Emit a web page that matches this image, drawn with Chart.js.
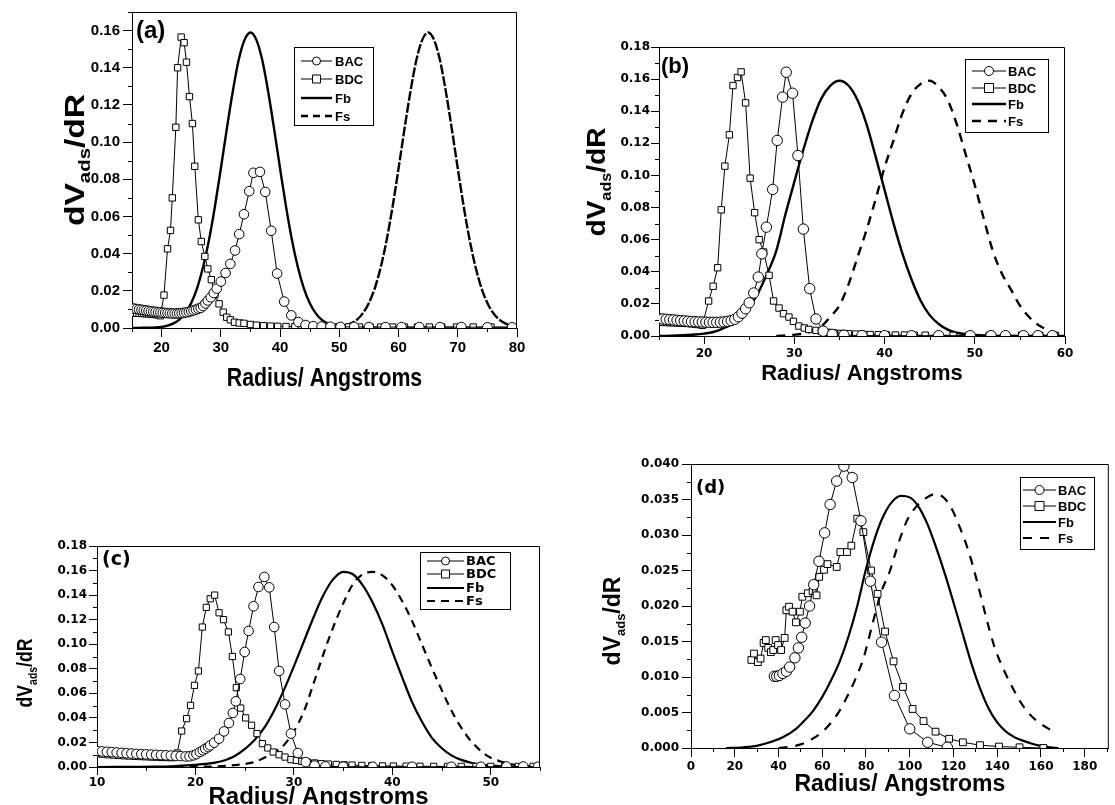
<!DOCTYPE html>
<html>
<head>
<meta charset="utf-8">
<script src="https://cdn.jsdelivr.net/npm/chart.js@4.4.1/dist/chart.umd.min.js"></script>
<style>
    html, body { margin: 0; padding: 0; background: #fff; }
    #wrap { position: relative; width: 1115px; height: 805px; overflow: hidden; }
    #wrap canvas { position: absolute; left: 0; top: 0; }
</style>
</head>
<body>
<div id="wrap">
    <canvas id="chartA" width="1115" height="805"></canvas>
    <canvas id="chartB" width="1115" height="805"></canvas>
    <canvas id="chartC" width="1115" height="805"></canvas>
    <canvas id="chartD" width="1115" height="805"></canvas>
</div>
<script>
// ---- panel (a) : [radius, dV/dR] ----
var aBAC = [[15,0.0106],[15.4,0.0104],[15.8,0.0102],[16.2,0.0100],[16.6,0.0098],[17.0,0.0096],[17.4,0.0094],[17.8,0.0092],[18.2,0.0090],[18.6,0.0088],[19.0,0.0087],[19.4,0.0085],[19.8,0.0084],[20.2,0.0082],[20.6,0.0081],[21.0,0.0080],[21.4,0.0079],[21.8,0.0078],[22.2,0.0078],[22.6,0.0078],[23.0,0.0079],[23.4,0.0080],[23.8,0.0082],[24.2,0.0084],[24.6,0.0087],[25.0,0.0091],[25.4,0.0095],[25.8,0.0099],[26.2,0.0104],[26.6,0.0108],[27.0,0.0118],[27.4,0.0132],[27.8,0.0148],[28.3,0.0165],[28.8,0.0188],[29.3,0.0212],[30.0,0.0250],[30.8,0.0296],[31.6,0.0345],[32.4,0.0417],[33.1,0.0505],[33.9,0.0612],[34.8,0.0736],[35.5,0.0835],[36.6,0.0840],[37.5,0.0732],[38.5,0.0523],[39.5,0.0293],[40.7,0.0142],[41.9,0.0068],[43.1,0.0032],[44.3,0.0016],[45.6,0.0010],[47.0,0.0008],[48.5,0.0007],[50.2,0.0006],[52.5,0.0006],[55.0,0.0005],[57.8,0.0005],[60.5,0.0005],[63.5,0.0005],[67.0,0.0005],[70.6,0.0005],[75.0,0.0004],[79.2,0.0004]];
var aBDC = [[15,0.0080],[15.4,0.0080],[15.8,0.0079],[16.2,0.0079],[16.6,0.0078],[17.0,0.0078],[17.4,0.0077],[17.8,0.0076],[18.2,0.0075],[18.6,0.0074],[19.0,0.0072],[19.4,0.0070],[19.8,0.0066],[20.4,0.0177],[21.0,0.0426],[21.5,0.0525],[21.8,0.0700],[22.4,0.1080],[22.7,0.1400],[23.3,0.1565],[23.8,0.1535],[24.2,0.1430],[24.7,0.1245],[25.2,0.1100],[25.6,0.0870],[26.2,0.0582],[26.7,0.0465],[27.3,0.0385],[27.8,0.0318],[28.4,0.0260],[29.0,0.0180],[29.7,0.0130],[30.4,0.0085],[31.0,0.0058],[31.6,0.0044],[32.3,0.0031],[33.1,0.0027],[33.9,0.0025],[35.0,0.0019],[36.0,0.0015],[37.2,0.0012],[38.4,0.0010],[39.6,0.0009],[41.0,0.0008],[42.5,0.0007],[44.3,0.0007],[46.2,0.0006],[48.0,0.0006],[49.8,0.0006],[51.6,0.0006],[53.4,0.0005],[55.2,0.0005],[57.0,0.0005],[59.0,0.0005],[61.0,0.0005],[63.2,0.0005],[65.2,0.0005],[67.3,0.0005],[69.8,0.0005],[72.6,0.0005],[75.6,0.0005],[79.2,0.0005]];
var aFb = [[15,0.0000],[17,0.0001],[19,0.0003],[20,0.0006],[21,0.0013],[22,0.0025],[23,0.0045],[24,0.0080],[25,0.0135],[26,0.0215],[27,0.0328],[28,0.0474],[29,0.0654],[30,0.0858],[31,0.1070],[32,0.1270],[33,0.1440],[34,0.1550],[35,0.1590],[36,0.1550],[37,0.1440],[38,0.1270],[39,0.1070],[40,0.0858],[41,0.0654],[42,0.0474],[43,0.0328],[44,0.0215],[45,0.0135],[46,0.0080],[47,0.0045],[48,0.0025],[49,0.0013],[50,0.0006],[51,0.0003],[53,0.0001],[55,0.0000]];
var aFs = [[45,0.0000],[47,0.0001],[49,0.0003],[50,0.0006],[51,0.0013],[52,0.0025],[53,0.0045],[54,0.0080],[55,0.0135],[56,0.0215],[57,0.0328],[58,0.0474],[59,0.0654],[60,0.0858],[61,0.1070],[62,0.1270],[63,0.1440],[64,0.1550],[65,0.1590],[66,0.1550],[67,0.1440],[68,0.1270],[69,0.1070],[70,0.0858],[71,0.0654],[72,0.0474],[73,0.0328],[74,0.0215],[75,0.0135],[76,0.0080],[77,0.0045],[78,0.0025],[79,0.0013],[80,0.0006]];
var aXTicks = [20, 30, 40, 50, 60, 70, 80];
var aYTicks = [0, 0.02, 0.04, 0.06, 0.08, 0.10, 0.12, 0.14, 0.16];

// ---- panel (b) ----
var bBAC = [[15,0.0108],[15.4,0.0106],[15.8,0.0104],[16.2,0.0102],[16.6,0.0100],[17.0,0.0098],[17.4,0.0096],[17.8,0.0094],[18.2,0.0092],[18.6,0.0090],[19.0,0.0089],[19.4,0.0088],[19.8,0.0087],[20.2,0.0086],[20.6,0.0085],[21.0,0.0085],[21.4,0.0085],[21.8,0.0086],[22.2,0.0088],[22.6,0.0091],[23.0,0.0096],[23.4,0.0104],[23.8,0.0120],[24.2,0.0142],[24.6,0.0170],[25.0,0.0207],[25.5,0.0268],[26.0,0.0367],[26.4,0.0512],[26.9,0.0678],[27.6,0.0913],[28.1,0.1218],[28.7,0.1488],[29.1,0.1643],[29.8,0.1512],[30.4,0.1124],[31.0,0.0666],[31.7,0.0295],[32.4,0.0106],[33.2,0.0030],[34.2,0.0010],[35.5,0.0005],[37.5,0.0003],[40.0,0.0002],[43.0,0.0002],[46.0,0.0002],[49.5,0.0002],[51.8,0.0002],[53.4,0.0002],[55.4,0.0002],[57.0,0.0002],[58.6,0.0002]];
var bBDC = [[15,0.0086],[15.4,0.0085],[15.8,0.0084],[16.2,0.0083],[16.6,0.0082],[17.0,0.0081],[17.4,0.0080],[17.8,0.0079],[18.2,0.0078],[18.6,0.0076],[19.0,0.0074],[19.4,0.0071],[19.8,0.0066],[20.5,0.0218],[21.0,0.0310],[21.5,0.0425],[21.9,0.0786],[22.3,0.1058],[22.8,0.1253],[23.2,0.1560],[23.7,0.1610],[24.1,0.1645],[24.6,0.1452],[25.1,0.0983],[25.6,0.0768],[26.1,0.0600],[26.6,0.0523],[27.2,0.0378],[27.7,0.0218],[28.3,0.0174],[28.8,0.0139],[29.4,0.0118],[29.9,0.0091],[30.5,0.0062],[31.1,0.0050],[31.6,0.0041],[32.4,0.0035],[33.0,0.0030],[33.7,0.0023],[34.4,0.0019],[35.2,0.0016],[36.0,0.0014],[36.8,0.0012],[37.6,0.0010],[38.4,0.0009],[39.3,0.0008],[40.2,0.0007],[41.2,0.0006],[42.2,0.0006],[43.3,0.0005],[44.5,0.0005],[46.0,0.0005],[47.6,0.0004],[49.4,0.0004],[51.6,0.0004],[53.3,0.0004],[55.2,0.0004],[57.2,0.0004],[58.9,0.0004]];
var bFb = [[15,0.0000],[17,0.0003],[19,0.0009],[20,0.0015],[21,0.0025],[22,0.0045],[23,0.0072],[24,0.0115],[25,0.0180],[26,0.0270],[27,0.0390],[28,0.0530],[29,0.0755],[30,0.0960],[31,0.1160],[32,0.1340],[33,0.1480],[34,0.1560],[35,0.1590],[36,0.1560],[37,0.1470],[38,0.1320],[39,0.1120],[40,0.0910],[41,0.0700],[42,0.0510],[43,0.0350],[44,0.0220],[45,0.0130],[46,0.0075],[47,0.0040],[48,0.0020],[50,0.0006],[52,0.0001],[60,0.0000]];
var bFs = [[28,0.0000],[30,0.0008],[31,0.0015],[32,0.0030],[33,0.0060],[34,0.0120],[35,0.0190],[36,0.0320],[37,0.0490],[38,0.0660],[39,0.0850],[40,0.1050],[41,0.1220],[42,0.1390],[43,0.1510],[44,0.1570],[45,0.1590],[46,0.1550],[47,0.1470],[48,0.1320],[49,0.1130],[50,0.0940],[51,0.0730],[52,0.0530],[53,0.0390],[54,0.0290],[55,0.0190],[56,0.0120],[57,0.0070],[58,0.0040],[59,0.0020],[60,0.0008]];
var bXTicks = [20, 30, 40, 50, 60];
var bYTicks = [0, 0.02, 0.04, 0.06, 0.08, 0.10, 0.12, 0.14, 0.16, 0.18];

// ---- panel (c) ----
var cBAC = [[10,0.0130],[10.5,0.0127],[11,0.0124],[11.5,0.0121],[12,0.0118],[12.5,0.0115],[13,0.0112],[13.5,0.0110],[14,0.0107],[14.5,0.0105],[15,0.0103],[15.5,0.0101],[16,0.0099],[16.5,0.0097],[17,0.0095],[17.5,0.0093],[18,0.0091],[18.5,0.0089],[19.0,0.0086],[19.4,0.0087],[19.8,0.0095],[20.1,0.0105],[20.45,0.0122],[20.75,0.0135],[21.0,0.0149],[21.3,0.0162],[21.5,0.0176],[21.9,0.0198],[22.4,0.0231],[22.9,0.0290],[23.4,0.0358],[23.8,0.0440],[24.1,0.0535],[24.55,0.0717],[25.0,0.0937],[25.4,0.1108],[25.9,0.1309],[26.4,0.1466],[27.0,0.1548],[27.5,0.1463],[28.0,0.1140],[28.5,0.0782],[29.1,0.0510],[29.7,0.0272],[30.4,0.0114],[31.2,0.0040],[32.1,0.0012],[33.2,0.0005],[35.0,0.0003],[38.0,0.0002],[42.0,0.0002],[46.0,0.0002],[49.0,0.0002],[51.6,0.0004],[53.3,0.0004],[54.8,0.0002]];
var cBDC = [[10,0.0109],[10.55,0.0104],[11.1,0.0100],[11.65,0.0097],[12.2,0.0094],[12.75,0.0091],[13.3,0.0089],[13.85,0.0087],[14.4,0.0085],[14.95,0.0083],[15.5,0.0081],[16.05,0.0080],[16.6,0.0078],[17.1,0.0077],[17.6,0.0076],[18.15,0.0114],[18.6,0.0293],[19.1,0.0394],[19.5,0.0502],[19.9,0.0665],[20.3,0.0782],[20.7,0.1140],[21.1,0.1300],[21.5,0.1370],[21.95,0.1400],[22.4,0.1256],[22.85,0.1200],[23.35,0.1100],[23.75,0.0900],[24.15,0.0646],[24.6,0.0480],[25.1,0.0400],[25.7,0.0340],[26.25,0.0272],[26.8,0.0190],[27.35,0.0155],[27.9,0.0122],[28.5,0.0100],[29.1,0.0081],[29.7,0.0060],[30.25,0.0054],[30.8,0.0046],[31.35,0.0041],[32.1,0.0033],[32.8,0.0027],[33.5,0.0024],[34.3,0.0021],[35.1,0.0018],[35.9,0.0016],[36.9,0.0013],[37.9,0.0011],[39.0,0.0009],[40.1,0.0008],[41.4,0.0007],[42.8,0.0006],[44.2,0.0005],[45.6,0.0005],[47.0,0.0005],[48.5,0.0005],[50.0,0.0005],[51.4,0.0005],[52.8,0.0005],[54.3,0.0005]];
var cFb = [[10,0.0000],[16,0.0003],[18,0.0008],[20,0.0017],[21,0.0025],[22,0.0035],[23,0.0055],[24,0.0090],[25,0.0145],[26,0.0220],[27,0.0320],[28,0.0460],[29,0.0630],[30,0.0820],[31,0.1020],[32,0.1220],[33,0.1400],[34,0.1530],[35,0.1590],[36,0.1570],[37,0.1480],[38,0.1340],[39,0.1160],[40,0.0940],[41,0.0730],[42,0.0530],[43,0.0370],[44,0.0240],[45,0.0155],[46,0.0095],[47,0.0058],[48,0.0035],[49,0.0020],[50,0.0012],[52,0.0004],[55,0.0000]];
var cFs = [[18,0.0000],[22,0.0005],[24,0.0015],[25,0.0025],[26,0.0040],[27,0.0075],[28,0.0120],[29,0.0180],[30,0.0290],[31,0.0450],[32,0.0680],[33,0.0920],[34,0.1140],[35,0.1330],[36,0.1490],[37,0.1570],[38,0.1590],[39,0.1560],[40,0.1480],[41,0.1350],[42,0.1190],[43,0.1000],[44,0.0810],[45,0.0630],[46,0.0460],[47,0.0320],[48,0.0210],[49,0.0130],[50,0.0075],[51,0.0045],[52,0.0025],[53,0.0013],[55,0.0003]];
var cXTicks = [10, 20, 30, 40, 50];
var cYTicks = [0, 0.02, 0.04, 0.06, 0.08, 0.10, 0.12, 0.14, 0.16, 0.18];

// ---- panel (d) ----
var dBAC = [[38.1,0.0101],[39.2,0.0101],[40.4,0.0102],[42.0,0.0105],[43.6,0.0108],[45.1,0.0114],[47.5,0.0127],[49.1,0.0141],[50.6,0.0156],[52.2,0.0176],[54.2,0.0200],[56.1,0.0230],[58.5,0.0263],[61.1,0.0303],[63.6,0.0343],[66.6,0.0376],[69.9,0.0397],[73.7,0.0381],[77.7,0.0320],[82.0,0.0235],[87.1,0.0149],[93.0,0.0074],[100.0,0.0027],[108.2,0.0008],[117.2,0.0001]];
var dBDC = [[27.6,0.0124],[28.8,0.0133],[30.6,0.0121],[31.8,0.0126],[33.2,0.0148],[34.2,0.0152],[35.3,0.0141],[36.5,0.0135],[37.6,0.0138],[38.7,0.0152],[39.8,0.0145],[41.2,0.0138],[42.8,0.0155],[43.6,0.0194],[44.8,0.0199],[46.4,0.0192],[48.0,0.0177],[49.8,0.0192],[50.9,0.0213],[53.4,0.0218],[55.6,0.0221],[57.4,0.0215],[58.6,0.0241],[60.8,0.0251],[62.4,0.0259],[66.6,0.0255],[68.3,0.0276],[71.3,0.0276],[73.3,0.0285],[76.0,0.0323],[78.8,0.0304],[82.3,0.0250],[85.3,0.0217],[88.7,0.0164],[92.6,0.0122],[96.9,0.0086],[101.3,0.0055],[106.3,0.0038],[111.8,0.0023],[118.0,0.0013],[124.3,0.0008],[132.1,0.0004],[140.8,0.0002],[150.2,0.0001],[161.1,0.0000]];
var dFb = [[16,0.0000],[24,0.0001],[30,0.0003],[36,0.0008],[42,0.0015],[48,0.0027],[52,0.0039],[56,0.0053],[60,0.0072],[64,0.0095],[68,0.0122],[72,0.0157],[76,0.0200],[80,0.0252],[84,0.0295],[88,0.0327],[92,0.0347],[96,0.0355],[100,0.0353],[104,0.0340],[108,0.0316],[112,0.0283],[116,0.0246],[120,0.0205],[124,0.0163],[128,0.0121],[132,0.0085],[136,0.0056],[140,0.0036],[144,0.0023],[148,0.0015],[152,0.0010],[156,0.0006],[160,0.0003],[164,0.0001],[168,0.0000]];
var dFs = [[40,0.0000],[46,0.0002],[51,0.0006],[55,0.0012],[59,0.0020],[63,0.0032],[67,0.0048],[71,0.0070],[75,0.0096],[79,0.0128],[83,0.0175],[87,0.0220],[91,0.0250],[95,0.0290],[99,0.0322],[103,0.0340],[107,0.0351],[111,0.0357],[115,0.0354],[119,0.0338],[123,0.0310],[127,0.0276],[131,0.0232],[135,0.0183],[139,0.0140],[143,0.0110],[147,0.0085],[151,0.0063],[155,0.0047],[159,0.0036],[163,0.0028],[167,0.0021]];
var dXTicks = [0, 20, 40, 60, 80, 100, 120, 140, 160, 180];
var dYTicks = [0, 0.005, 0.010, 0.015, 0.020, 0.025, 0.030, 0.035, 0.040];

var seriesNames = ['BAC', 'BDC', 'Fb', 'Fs'];

// minor ticks half way between the labelled ones
function minorValues(s) {
    var t = s.ticks.map(function (k) { return k.value; });
    var step = t[1] - t[0], out = [];
    for (var v = t[0] - step / 2; v <= s.max + 1e-9; v += step) {
        if (v >= s.min - 1e-9) out.push(v);
    }
    return out;
}

function drawMarker(ctx, style, x, y, r) {
    ctx.beginPath();
    if (style === 'rect') {
        ctx.rect(x - r, y - r, 2 * r, 2 * r);
    } else {
        ctx.arc(x, y, r, 0, Math.PI * 2);
    }
    ctx.fillStyle = '#fff';
    ctx.fill();
    ctx.stroke();
}

// frame, minor ticks, legend box, panel letter and axis titles
var decor = {
    id: 'decor',
    afterDraw: function (chart, args, o) {
        var ctx = chart.ctx, a = chart.chartArea;
        var xs = chart.scales.x, ys = chart.scales.y;
        ctx.save();
        ctx.strokeStyle = '#000';
        ctx.lineWidth = 1;
        ctx.beginPath();
        ctx.moveTo(a.left, a.top + 0.5);
        ctx.lineTo(a.right - 0.5, a.top + 0.5);
        ctx.lineTo(a.right - 0.5, a.bottom);
        minorValues(xs).forEach(function (v) {
            var px = Math.round(xs.getPixelForValue(v)) + 0.5;
            ctx.moveTo(px, a.bottom);
            ctx.lineTo(px, a.bottom + o.minorLen);
        });
        minorValues(ys).forEach(function (v) {
            var py = Math.round(ys.getPixelForValue(v)) + 0.5;
            ctx.moveTo(a.left, py);
            ctx.lineTo(a.left - o.minorLen, py);
        });
        ctx.stroke();

        // legend
        var lg = o.legend;
        ctx.lineWidth = 1;
        ctx.strokeRect(lg.x + 0.5, lg.y + 0.5, lg.w, lg.h);
        chart.data.datasets.forEach(function (ds, i) {
            var y = lg.rows[i];
            ctx.save();
            ctx.lineWidth = ds.pointRadius ? 1 : ds.borderWidth;
            ctx.setLineDash(ds.pointRadius ? [] : (lg.dash && i === 3 ? lg.dash : (ds.borderDash || [])));
            ctx.beginPath();
            ctx.moveTo(lg.x1, y);
            ctx.lineTo(lg.x2, y);
            ctx.stroke();
            ctx.setLineDash([]);
            if (ds.pointRadius) {
                ctx.lineWidth = 1;
                drawMarker(ctx, ds.pointStyle, (lg.x1 + lg.x2) / 2, y, lg.r);
            }
            ctx.restore();
            ctx.fillStyle = '#000';
            ctx.font = lg.font;
            ctx.textBaseline = 'middle';
            ctx.textAlign = 'left';
            ctx.fillText(ds.label, lg.tx, y + 1);
        });

        // panel letter
        ctx.fillStyle = '#000';
        ctx.font = o.tag.font;
        ctx.textBaseline = 'middle';
        ctx.textAlign = 'left';
        ctx.fillText(o.tag.text, o.tag.x, o.tag.y);

        // x title
        ctx.save();
        ctx.font = o.xTitle.font;
        ctx.textAlign = 'center';
        ctx.translate((a.left + a.right) / 2, o.xTitle.y);
        ctx.scale(o.xTitle.sx || 1, 1);
        ctx.fillText('Radius/ Angstroms', 0, 0);
        ctx.restore();

        // y title with subscript
        var t = o.yTitle;
        ctx.translate(t.x, t.y);
        ctx.rotate(-Math.PI / 2);
        ctx.scale(t.stretch || 1, 1);
        ctx.textAlign = 'left';
        ctx.textBaseline = 'alphabetic';
        ctx.font = t.font;
        var w1 = ctx.measureText('dV').width, w3 = ctx.measureText('/dR').width;
        ctx.font = t.subFont;
        var w2 = ctx.measureText('ads').width;
        var x = -(w1 + w2 + w3) / 2;
        ctx.font = t.font;
        ctx.fillText('dV', x, t.base);
        x += w1;
        ctx.font = t.subFont;
        ctx.fillText('ads', x, t.base + t.subShift);
        x += w2;
        ctx.font = t.font;
        ctx.fillText('/dR', x, t.base);
        ctx.restore();
    }
};

function makePanel(id, p) {
    var yw = 70, xh = 30;
    var ds = [
        { label: seriesNames[0], data: p.bac, borderColor: '#000', borderWidth: 1, pointStyle: 'circle',
          pointRadius: p.circleR, pointBackgroundColor: '#fff', pointBorderColor: '#000', pointBorderWidth: 1, order: 1 },
        { label: seriesNames[1], data: p.bdc, borderColor: '#000', borderWidth: 1, pointStyle: 'rect',
          pointRadius: p.rectR, pointBackgroundColor: '#fff', pointBorderColor: '#000', pointBorderWidth: 1, order: 2 },
        { label: seriesNames[2], data: p.fb, borderColor: '#000', borderWidth: p.lineW, pointRadius: 0,
          cubicInterpolationMode: 'monotone', order: 3 },
        { label: seriesNames[3], data: p.fs, borderColor: '#000', borderWidth: p.lineW, borderDash: p.dash, pointRadius: 0,
          cubicInterpolationMode: 'monotone', order: 4 }
    ];
    return new Chart(document.getElementById(id), {
        type: 'line',
        data: { datasets: ds },
        plugins: [decor],
        options: {
            responsive: false,
            animation: false,
            devicePixelRatio: 1,
            layout: { padding: { left: p.box[0] - yw, right: 1115 - p.box[1], top: p.box[2], bottom: 805 - p.box[3] - xh } },
            plugins: {
                legend: { display: false },
                tooltip: { enabled: false },
                decor: p.decor
            },
            scales: {
                x: {
                    type: 'linear', min: p.xr[0], max: p.xr[1],
                    afterBuildTicks: function (s) { s.ticks = p.xTicks.map(function (v) { return { value: v }; }); },
                    afterFit: function (s) { s.height = xh; },
                    ticks: { color: '#000', font: p.tickFont, padding: p.xPad, maxRotation: 0, autoSkip: false,
                             callback: function (v) { return String(v); } },
                    grid: { drawOnChartArea: false, tickLength: p.tickLen, tickColor: '#000', tickWidth: 1 },
                    border: { color: '#000', width: 1 }
                },
                y: {
                    type: 'linear', min: p.yr[0], max: p.yr[1],
                    afterBuildTicks: function (s) { s.ticks = p.yTicks.map(function (v) { return { value: v }; }); },
                    afterFit: function (s) { s.width = yw; },
                    ticks: { color: '#000', font: p.tickFont, padding: p.yPad, autoSkip: false,
                             callback: function (v) { return v.toFixed(p.yDec); } },
                    grid: { drawOnChartArea: false, tickLength: p.tickLen, tickColor: '#000', tickWidth: 1 },
                    border: { color: '#000', width: 1 }
                }
            }
        }
    });
}

var wide = "'DejaVu Sans', sans-serif";
var arial = "'Liberation Sans', Arial, sans-serif";

makePanel('chartA', {
    bac: aBAC, bdc: aBDC, fb: aFb, fs: aFs, xTicks: aXTicks, yTicks: aYTicks,
    xr: [15, 80], yr: [0, 0.17], box: [132, 517, 10, 328], yDec: 2,
    circleR: 4.8, rectR: 4.5, lineW: 2.4, dash: [10, 2],
    tickFont: { family: arial, size: 15, weight: 'bold' }, tickLen: 9, xPad: 2, yPad: 3,
    decor: {
        minorLen: 4,
        legend: { x: 294, y: 47, w: 79, h: 78, rows: [61, 79, 98, 116], x1: 301, x2: 332, tx: 335, r: 4,
                  dash: [7, 5], font: 'bold 13px ' + arial },
        tag: { text: '(a)', x: 136, y: 31, font: 'bold 24px ' + arial },
        xTitle: { y: 379, sx: 0.82, font: 'bold 26px ' + arial },
        yTitle: { x: 74, y: 160, base: 10, subShift: 6, stretch: 1.2, font: 'bold 28px ' + arial, subFont: 'bold 17px ' + arial }
    }
});

makePanel('chartB', {
    bac: bBAC, bdc: bBDC, fb: bFb, fs: bFs, xTicks: bXTicks, yTicks: bYTicks,
    xr: [15, 60], yr: [0, 0.18], box: [659, 1065, 47, 336], yDec: 2,
    circleR: 5.2, rectR: 4.5, lineW: 2.4, dash: [9, 7],
    tickFont: { family: wide, size: 12, weight: 'bold' }, tickLen: 8, xPad: 3, yPad: 1,
    decor: {
        minorLen: 4,
        legend: { x: 965, y: 59, w: 83, h: 73, rows: [71, 88, 104, 121], x1: 972, x2: 1006, tx: 1008, r: 4.5,
                  font: 'bold 13px ' + arial },
        tag: { text: '(b)', x: 661, y: 67, font: 'bold 22px ' + arial },
        xTitle: { y: 374, font: 'bold 22px ' + arial },
        yTitle: { x: 596, y: 182, base: 9, subShift: 6, stretch: 1.08, font: 'bold 26px ' + arial, subFont: 'bold 15px ' + arial }
    }
});

makePanel('chartC', {
    bac: cBAC, bdc: cBDC, fb: cFb, fs: cFs, xTicks: cXTicks, yTicks: cYTicks,
    xr: [10, 55], yr: [0, 0.18], box: [97, 540, 546, 767], yDec: 2,
    circleR: 4.8, rectR: 4.4, lineW: 2.2, dash: [8, 6],
    tickFont: { family: wide, size: 12, weight: 'bold' }, tickLen: 8, xPad: 1, yPad: 2,
    decor: {
        minorLen: 4,
        legend: { x: 420, y: 552, w: 90, h: 57, rows: [561, 574, 588, 601], x1: 427, x2: 464, tx: 466, r: 4,
                  font: 'bold 13px ' + wide },
        tag: { text: '(c)', x: 102, y: 560, font: 'bold 19px ' + wide },
        xTitle: { y: 797, font: 'bold 24px ' + arial },
        yTitle: { x: 24, y: 673, base: 8, subShift: 5, stretch: 0.8, font: 'bold 22px ' + arial, subFont: 'bold 13px ' + arial }
    }
});

makePanel('chartD', {
    bac: dBAC, bdc: dBDC, fb: dFb, fs: dFs, xTicks: dXTicks, yTicks: dYTicks,
    xr: [0, 191], yr: [0, 0.040], box: [691, 1115, 464, 748], yDec: 3,
    circleR: 5.2, rectR: 4.8, lineW: 2.2, dash: [9, 8],
    tickFont: { family: wide, size: 12, weight: 'bold' }, tickLen: 9, xPad: 3, yPad: 3,
    decor: {
        minorLen: 4,
        legend: { x: 1020, y: 477, w: 74, h: 72, rows: [490, 506, 522, 538], x1: 1023, x2: 1056, tx: 1058, r: 4.5,
                  font: 'bold 13px ' + arial },
        tag: { text: '(d)', x: 696, y: 488, font: 'bold 18px ' + wide },
        xTitle: { y: 785, font: 'bold 23px ' + arial },
        yTitle: { x: 612, y: 621, base: 8, subShift: 5, font: 'bold 23px ' + arial, subFont: 'bold 13px ' + arial }
    }
});
</script>
</body>
</html>
